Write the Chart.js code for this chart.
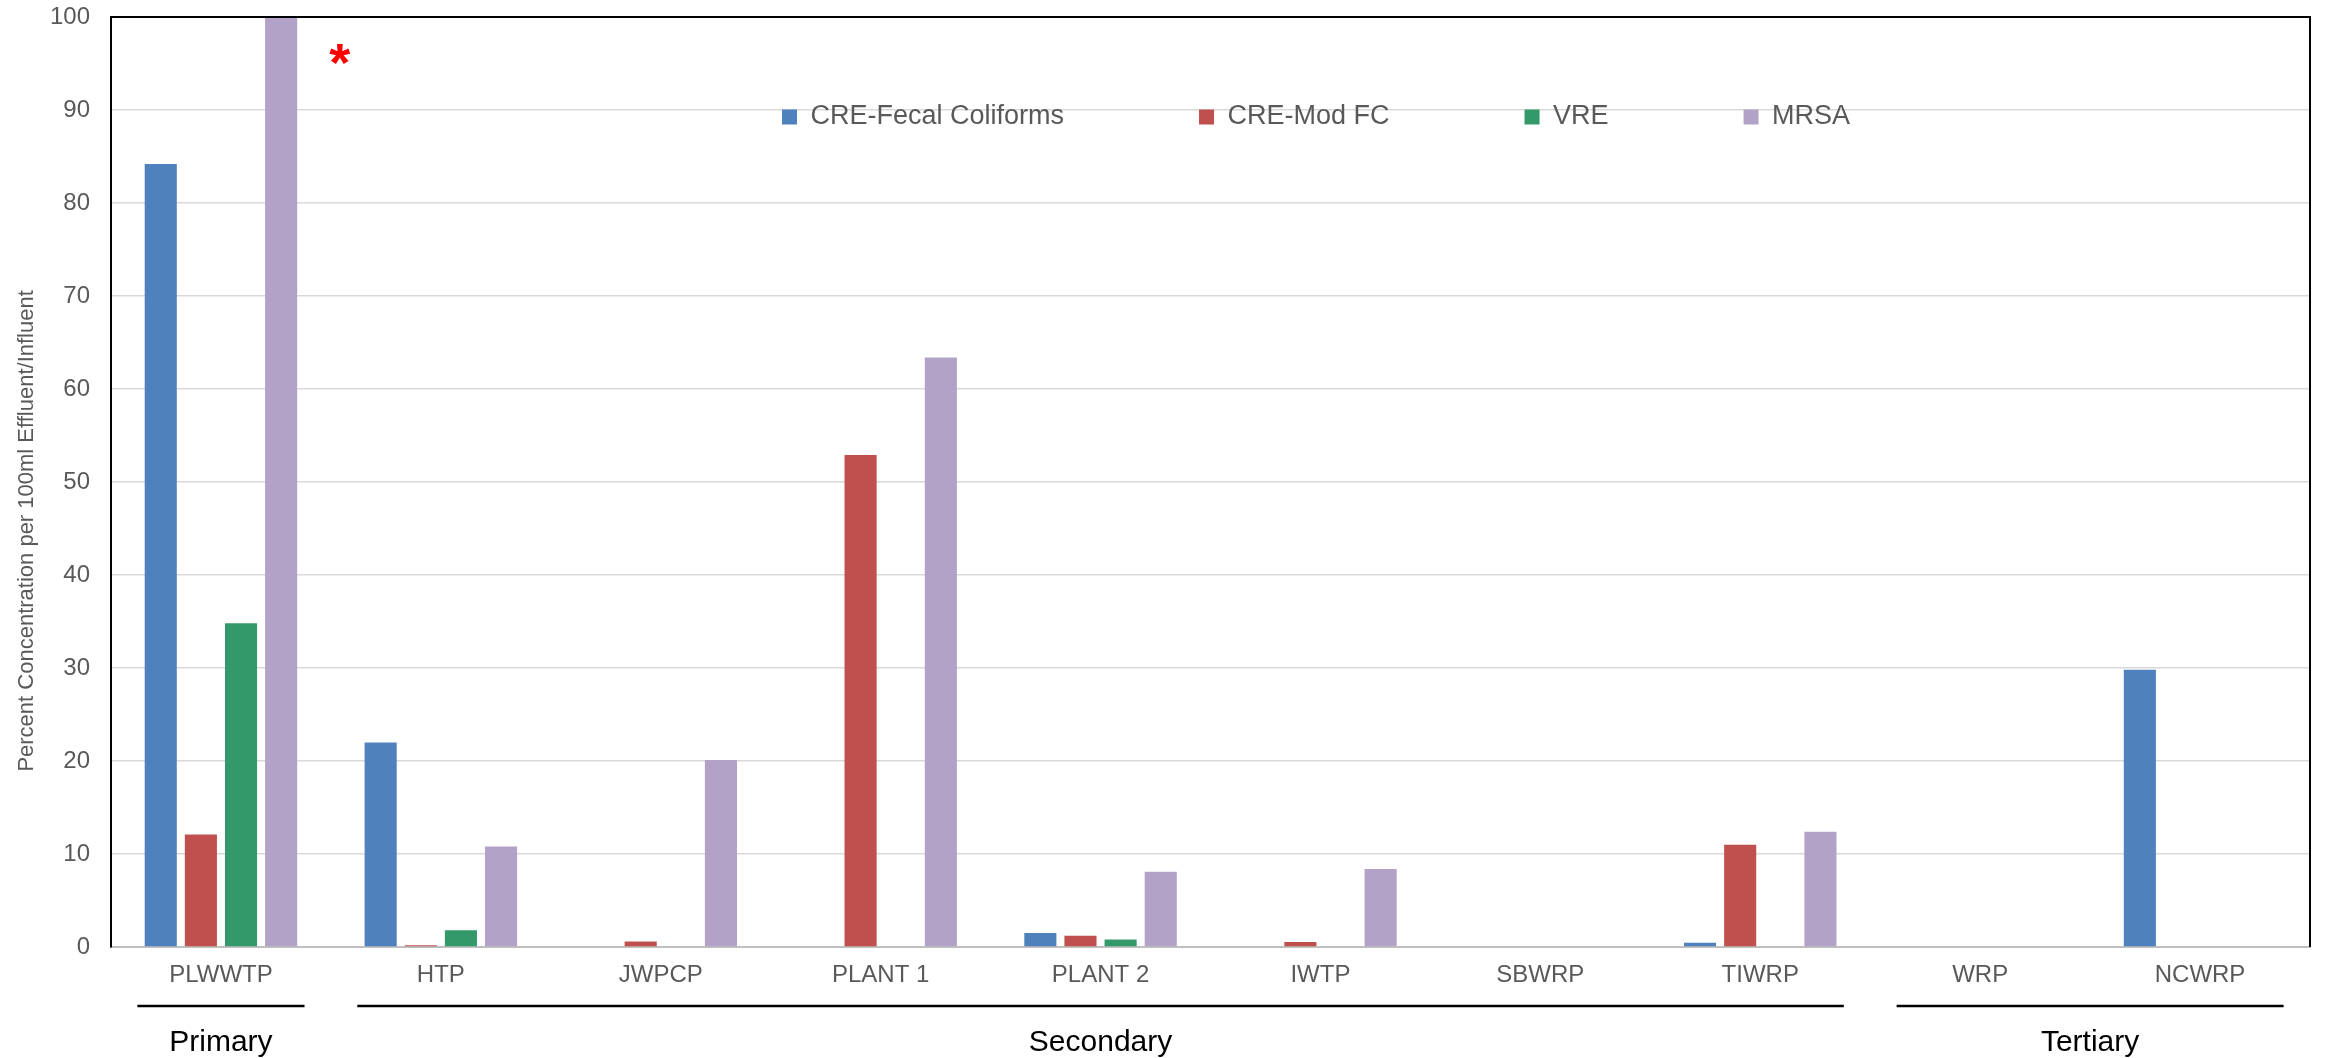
<!DOCTYPE html>
<html>
<head>
<meta charset="utf-8">
<script src="https://cdn.jsdelivr.net/npm/chart.js@4.4.1/dist/chart.umd.min.js"></script>
<style>
	body { margin: 0; background: #fff; }
	canvas { display: block; }
</style>
</head>
<body>
<canvas id="chart" width="2325" height="1058"></canvas>
<script>
var plants = ['PLWWTP', 'HTP', 'JWPCP', 'PLANT 1', 'PLANT 2', 'IWTP', 'SBWRP', 'TIWRP', 'WRP', 'NCWRP'];

var creFecal = [84.2, 22.0, 0, 0.08, 1.5, 0, 0, 0.45, 0, 29.8];
var creModFc = [12.1, 0.2, 0.6, 52.9, 1.2, 0.55, 0, 11.0, 0, 0];
var vre = [34.8, 1.8, 0, 0, 0.8, 0.08, 0, 0, 0, 0];
var mrsa = [100, 10.8, 20.1, 63.4, 8.1, 8.4, 0, 12.4, 0, 0];

var yTicks = [0, 10, 20, 30, 40, 50, 60, 70, 80, 90, 100];

// treatment level groups, by first / last plant index
var groupNames = ['Primary', 'Secondary', 'Tertiary'];
var groupFirst = [0, 1, 8];
var groupLast = [0, 7, 9];
var groupMid = groupNames.map((g, i) => (groupFirst[i] + groupLast[i] + 1) / 2);

var yTitle = 'Percent Concentration per 100ml Effluent/Influent';

Chart.defaults.font.family = "'Liberation Sans', Arial, sans-serif";
Chart.defaults.color = '#595959';

// legend sits inside the plot area, so move it after layout
const legendInside = {
	id: 'legendInside',
	afterLayout(chart, args, options) {
		const lg = chart.legend;
		const pad = lg.options.labels.padding;
		const lw = lg.lineWidths[0];
		lg.left = 0;
		lg.right = 2 * options.x - pad + lw;
		lg.top = options.y - pad - options.fontSize / 2;
		lg.bottom = lg.top + 2 * pad + 2 * options.fontSize;
		lg.width = lg.right - lg.left;
		lg.height = lg.bottom - lg.top;
	}
};

const chartAreaBorder = {
	id: 'chartAreaBorder',
	afterDraw(chart, args, options) {
		const {ctx, chartArea: {left, top, right, bottom}} = chart;
		ctx.save();
		ctx.strokeStyle = options.borderColor;
		ctx.lineWidth = options.borderWidth;
		ctx.beginPath();
		ctx.moveTo(left, top);
		ctx.lineTo(right, top);
		ctx.lineTo(right, bottom);
		ctx.stroke();
		ctx.restore();
	}
};

const groupLines = {
	id: 'groupLines',
	afterDraw(chart, args, options) {
		const {ctx} = chart;
		const sc = chart.scales.xGroup;
		const y = sc.top + options.offset;
		ctx.save();
		ctx.strokeStyle = options.color;
		ctx.lineWidth = options.width;
		for (var i = 0; i < groupNames.length; i++) {
			var x0 = sc.getPixelForValue(groupFirst[i] + options.inset);
			var x1 = sc.getPixelForValue(groupLast[i] + 1 - options.inset);
			ctx.beginPath();
			ctx.moveTo(x0, y);
			ctx.lineTo(x1, y);
			ctx.stroke();
		}
		// significance mark next to the capped MRSA bar
		var fs = options.noteSize;
		ctx.fillStyle = options.noteColor;
		ctx.font = 'bold ' + fs + "px 'Liberation Sans', Arial, sans-serif";
		ctx.textAlign = 'center';
		ctx.textBaseline = 'middle';
		ctx.fillText(options.note,
			sc.getPixelForValue(options.noteAt),
			chart.scales.y.getPixelForValue(options.noteValue) + 0.225 * fs);
		ctx.restore();
	}
};

var ctx = document.getElementById('chart').getContext('2d');
var chart = new Chart(ctx, {
	type: 'bar',
	data: {
		labels: plants,
		datasets: [{
			label: 'CRE-Fecal Coliforms',
			data: creFecal,
			backgroundColor: '#4f81bd',
		}, {
			label: 'CRE-Mod FC',
			data: creModFc,
			backgroundColor: '#c0504d',
		}, {
			label: 'VRE',
			data: vre,
			backgroundColor: '#34996a',
		}, {
			label: 'MRSA',
			data: mrsa,
			backgroundColor: '#b2a2c7',
		}]
	},
	options: {
		responsive: false,
		animation: false,
		devicePixelRatio: 1,
		categoryPercentage: 0.73,
		barPercentage: 0.8,
		borderWidth: 0,
		layout: {
			padding: { left: 14, right: 15, top: 16, bottom: 0 }
		},
		scales: {
			x: {
				type: 'category',
				position: 'bottom',
				weight: 0,
				grid: { display: false, drawTicks: false },
				border: { color: '#bfbfbf', width: 2 },
				ticks: {
					font: { size: 24 },
					color: '#595959',
					padding: 14,
					maxRotation: 0,
					autoSkip: false,
				},
				afterFit: function(scale) { scale.height = 43; },
			},
			xGroup: {
				type: 'linear',
				position: 'bottom',
				weight: 1,
				offset: false,
				min: 0, max: plants.length,
				grid: { display: false, drawTicks: false },
				border: { display: false },
				afterBuildTicks: function(scale) {
					scale.ticks = groupMid.map(v => ({ value: v }));
				},
				ticks: {
					font: { size: 30, lineHeight: 1 },
					color: '#000000',
					padding: 38,
					maxRotation: 0,
					autoSkip: false,
					callback: function(value) { return groupNames[groupMid.indexOf(value)]; },
				},
				afterFit: function(scale) { scale.height = 68; },
			},
			y: {
				min: 0, max: 100,
				afterBuildTicks: function(scale) {
					scale.ticks = yTicks.map(v => ({ value: v }));
				},
				grid: { color: '#d9d9d9', lineWidth: 1.5, drawTicks: false },
				border: { color: '#000000', width: 2 },
				ticks: {
					font: { size: 24 },
					color: '#595959',
					padding: 21,
				},
				title: {
					display: true,
					text: yTitle + ' '.repeat(16),
					font: { size: 22 },
					color: '#595959',
					padding: { top: 0, bottom: 10 },
				},
				afterFit: function(scale) {
					scale.width = 97;
					scale.paddingTop = 15;
					scale.paddingBottom = 15;
				},
			},
		},
		plugins: {
			legend: {
				display: true,
				position: 'top',
				maxHeight: 1,
				labels: {
					font: { size: 27 },
					color: '#595959',
					boxWidth: 15,
					boxHeight: 15,
					padding: 135,
				},
			},
			tooltip: { enabled: false },
			legendInside: { x: 782, y: 117, fontSize: 27 },
			chartAreaBorder: { borderColor: '#000000', borderWidth: 2 },
			groupLines: {
				offset: 16, inset: 0.12, color: '#000000', width: 2.5,
				note: '*', noteAt: 1.04, noteValue: 96, noteSize: 54, noteColor: '#ff0000',
			},
		},
	},
	plugins: [legendInside, chartAreaBorder, groupLines],
});
</script>
</body>
</html>
